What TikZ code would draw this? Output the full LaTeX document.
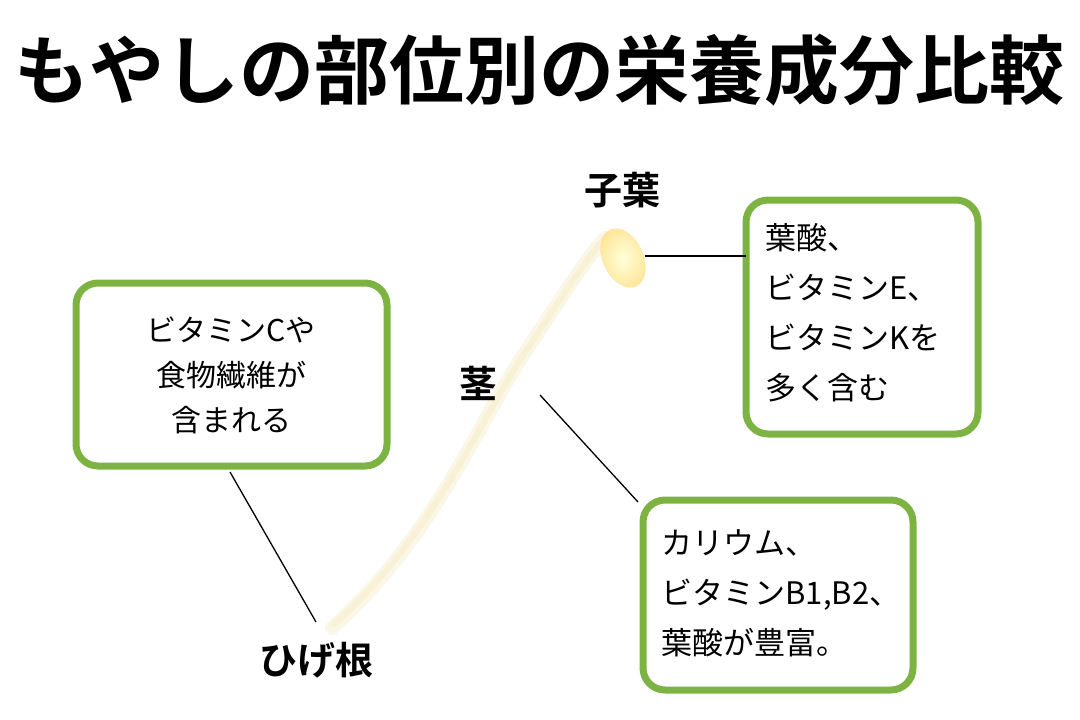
\documentclass[tikz,border=0pt]{standalone}
\usepackage{fontspec}
\newfontfamily\cjk{Noto Sans CJK JP}
\newfontfamily\cjkb{Noto Sans CJK JP Bold}
\usetikzlibrary{shapes.geometric}
\definecolor{grn}{HTML}{7CB342}
\definecolor{cream}{HTML}{F8F1D6}
\tikzset{
 box/.style={draw=grn,line width=7pt,rounded corners=22pt,fill=white},
 lbl/.style={font=\cjkb\fontsize{38}{40}\selectfont},
 body/.style={font=\cjk\fontsize{31}{50}\selectfont,align=left,anchor=north west},
 conn/.style={line width=1.3pt,black}
}
\begin{document}
\begin{tikzpicture}[x=1pt,y=-1pt]
\useasboundingbox (0,0) rectangle (1080,720);
\node[font=\cjkb\fontsize{75}{80}\selectfont] (title) at (540,70) {もやしの部位別の栄養成分比較};
% sprout
\draw[cream!60!white,line width=14pt,line cap=round] (332,628) .. controls (430,540) and (470,440) .. (520,360) .. controls (560,300) and (585,260) .. (605,238);
\draw[cream,line width=6pt,line cap=round] (334,624) .. controls (430,538) and (470,440) .. (520,360) .. controls (560,300) and (585,260) .. (605,238);
\node[ellipse,minimum width=40pt,minimum height=62pt,rotate=25,inner color=yellow!15!white,outer color=yellow!50!orange!40!white,draw=yellow!50!orange!35!white] (leaf) at (623,258) {};
% boxes
\draw[box] (76,283) rectangle (387,466);
\node[font=\cjk\fontsize{30}{45}\selectfont,align=center] (lt) at (231,375) {ビタミンCや\\食物繊維が\\含まれる};
\draw[box] (746,200) rectangle (978,434);
\node[body] (rt) at (762,220) {葉酸、\\ビタミンE、\\ビタミンKを\\多く含む};
\draw[box] (643,500) rectangle (913,690);
\node[body] (bt) at (658,526) {カリウム、\\ビタミンB1,B2、\\葉酸が豊富。};
% labels
\node[lbl] (shiyo) at (622,190) {子葉};
\node[lbl] (kuki) at (478,383) {茎};
\node[lbl] (hige) at (316,660) {ひげ根};
\coordinate (a1) at (645,256); \coordinate (a2) at (746,256);
\coordinate (b1) at (540,395); \coordinate (b2) at (638,502);
\coordinate (c1) at (230,472); \coordinate (c2) at (316,622);
\draw[conn] (a1) -- (a2);
\draw[conn] (b1) -- (b2);
\draw[conn] (c1) -- (c2);
\end{tikzpicture}
\end{document}
